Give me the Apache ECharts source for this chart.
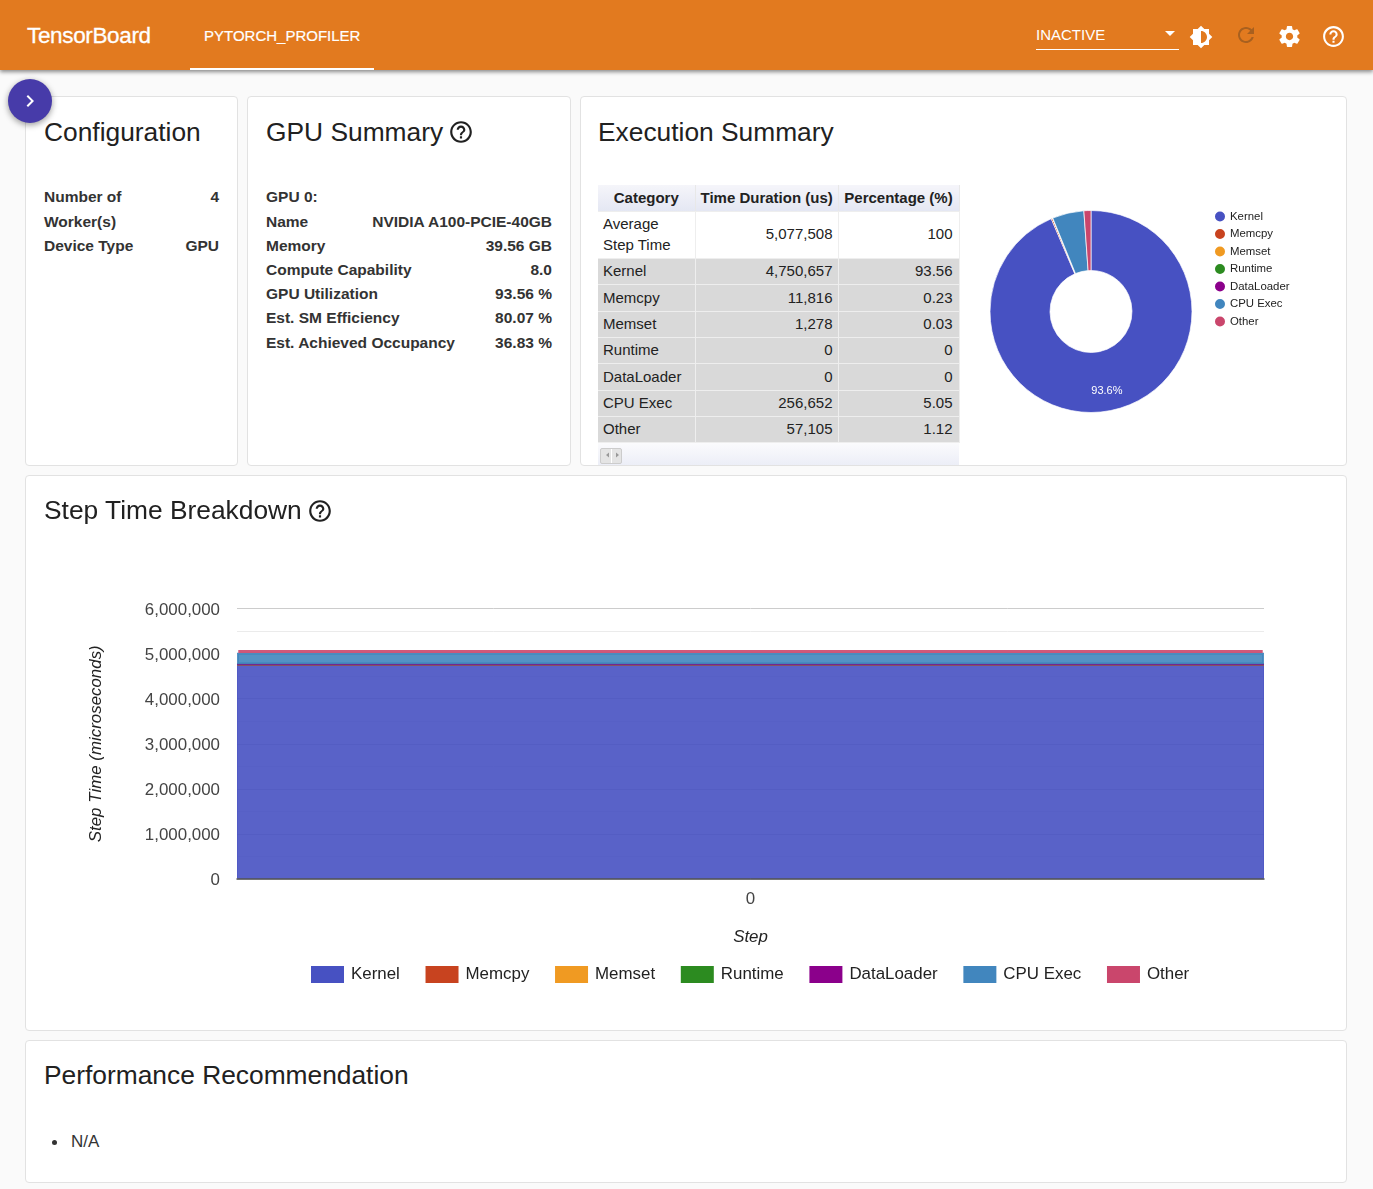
<!DOCTYPE html>
<html lang="en">
  <head>
    <meta charset="utf-8" />
    <title>TensorBoard</title>
    <script src="https://cdn.jsdelivr.net/npm/echarts@6/dist/echarts.min.js"></script>
    <style>
      html, body { margin: 0; padding: 0; width: 1373px; height: 1189px; overflow: hidden; }
      body { background: #fafafa; font-family: "Liberation Sans", Arial, sans-serif; color: #212121; position: relative; }
      .abs { position: absolute; white-space: nowrap; }
      .topbar { position: absolute; left: 0; top: 0; width: 1373px; height: 70px; background: #e27a1f; box-shadow: 0 2px 4px rgba(0,0,0,.45); color: #fff; z-index: 2; }
      .card { position: absolute; box-sizing: border-box; background: #fff; border: 1px solid #e2e2e2; border-radius: 4px; }
      .title { position: absolute; font-size: 26.35px; line-height: 32px; color: #212121; white-space: nowrap; }
      .fab { position: absolute; left: 8px; top: 79px; width: 44px; height: 44px; border-radius: 50%; background: #473ba9; box-shadow: 0 2px 6px rgba(0,0,0,.4); z-index: 3; }
      .kv { position: absolute; font-size: 15.5px; font-weight: bold; color: #333; line-height: 24.2px; }
      .kv div { display: flex; justify-content: space-between; white-space: nowrap; }
      table.summary { position: absolute; left: 598px; top: 185px; width: 361px; border-collapse: collapse; table-layout: fixed; font-size: 15px; color: #222; }
      table.summary th { height: 26px; padding: 0 5px; background: linear-gradient(#f5f5fa, #e4e7f3); font-weight: bold; text-align: center; border-right: 1px solid #e8e8e8; border-bottom: 1px solid #eee; box-sizing: border-box; white-space: nowrap; }
      table.summary td { height: 26px; padding: 0 6px 1px 5px; box-sizing: border-box; background: #d9d9d9; border-right: 1px solid #eee; border-bottom: 1px solid #eee; text-align: right; line-height: 21px; }
      table.summary tr:nth-child(4) td, table.summary tr:nth-child(7) td { height: 27px; }
      table.summary td:first-child { text-align: left; }
      table.summary td:nth-child(2) { padding-right: 5px; }
      table.summary tr.first td { background: #fff; height: 47px; border-right: 1px solid #eee; padding-bottom: 2px; }
      .scroller { position: absolute; left: 598px; top: 443px; width: 361px; height: 22px; background: linear-gradient(#fbfbfd, #eceef7); }
      .scroller span { position: absolute; left: 2px; top: 5px; width: 22px; height: 16px; box-sizing: border-box; border: 1px solid #ccc; background: #e4e4e4; border-radius: 2px; }
      .scroller span:after { content: ""; position: absolute; left: 10px; top: 0; width: 1px; height: 14px; background: #fff; }
      .scroller svg { position: absolute; left: 3px; top: 4px; }
    </style>
  </head>

  <body>
    <div class="topbar">
      <div class="abs" style="left: 27px; top: 22px; font-size: 22.5px; line-height: 28px; letter-spacing: -0.35px; -webkit-text-stroke: 0.3px #fff">TensorBoard</div>
      <div class="abs" style="left: 204px; top: 26px; font-size: 15px; line-height: 20px; -webkit-text-stroke: 0.2px #fff">PYTORCH_PROFILER</div>
      <div class="abs" style="left: 190px; top: 68px; width: 184px; height: 2px; background: #fff"></div>
      <div class="abs" style="left: 1036px; top: 25px; font-size: 15px; line-height: 20px">INACTIVE</div>
      <div class="abs" style="left: 1036px; top: 49px; width: 143px; height: 1px; background: #fff"></div>
      <svg class="abs" style="left: 1165px; top: 31px" width="10" height="5"><path d="M0 0h10L5 5z" fill="#fff" /></svg>
      <svg class="abs" style="left: 1189px; top: 25px" width="24" height="24" viewBox="0 0 24 24"><path fill="#fff" d="M20 15.31L23.31 12 20 8.69V4h-4.69L12 .69 8.69 4H4v4.69L.69 12 4 15.31V20h4.69L12 23.31 15.31 20H20v-4.69zM12 18V6c3.31 0 6 2.69 6 6s-2.69 6-6 6z" /></svg>
      <svg class="abs" style="left: 1234px; top: 23px" width="24" height="24" viewBox="0 0 24 24"><path fill="#a8601f" d="M17.65 6.35C16.2 4.9 14.21 4 12 4c-4.42 0-7.99 3.58-7.99 8s3.57 8 7.99 8c3.73 0 6.84-2.55 7.73-6h-2.08c-.82 2.33-3.04 4-5.65 4-3.31 0-6-2.69-6-6s2.69-6 6-6c1.66 0 3.14.69 4.22 1.78L13 11h7V4l-2.35 2.35z" /></svg>
      <svg class="abs" style="left: 1277px; top: 24px" width="25" height="25" viewBox="0 0 24 24"><path fill="#fff" d="M19.43 12.98c.04-.32.07-.64.07-.98s-.03-.66-.07-.98l2.11-1.65c.19-.15.24-.42.12-.64l-2-3.46c-.12-.22-.39-.3-.61-.22l-2.49 1c-.52-.4-1.08-.73-1.69-.98l-.38-2.65C14.46 2.18 14.25 2 14 2h-4c-.25 0-.46.18-.49.42l-.38 2.65c-.61.25-1.17.59-1.69.98l-2.49-1c-.23-.09-.49 0-.61.22l-2 3.46c-.13.22-.07.49.12.64l2.11 1.65c-.04.32-.07.65-.07.98s.03.66.07.98l-2.11 1.65c-.19.15-.24.42-.12.64l2 3.46c.12.22.39.3.61.22l2.49-1c.52.4 1.08.73 1.69.98l.38 2.65c.03.24.24.42.49.42h4c.25 0 .46-.18.49-.42l.38-2.65c.61-.25 1.17-.59 1.69-.98l2.49 1c.23.09.49 0 .61-.22l2-3.46c.12-.22.07-.49-.12-.64l-2.11-1.65zM12 15.5c-1.93 0-3.5-1.57-3.5-3.5s1.57-3.5 3.5-3.5 3.5 1.57 3.5 3.5-1.57 3.5-3.5 3.5z" /></svg>
      <svg class="abs" style="left: 1321px; top: 24px" width="25" height="25" viewBox="0 0 24 24"><path fill="#fff" d="M11 18h2v-2h-2v2zm1-16C6.48 2 2 6.48 2 12s4.48 10 10 10 10-4.48 10-10S17.52 2 12 2zm0 18c-4.41 0-8-3.59-8-8s3.59-8 8-8 8 3.59 8 8-3.59 8-8 8zm0-14c-2.21 0-4 1.79-4 4h2c0-1.1.9-2 2-2s2 .9 2 2c0 2-3 1.75-3 5h2c0-2.25 3-2.5 3-5 0-2.21-1.79-4-4-4z" /></svg>
    </div>
    <div class="fab">
      <svg class="abs" style="left: 10px; top: 10px" width="24" height="24" viewBox="0 0 24 24"><path fill="#fff" d="M10 6L8.59 7.41 13.17 12l-4.58 4.59L10 18l6-6z" /></svg>
    </div>

    <!-- cards -->
    <div class="card" style="left: 25px; top: 96px; width: 213px; height: 370px"></div>
    <div class="card" style="left: 247px; top: 96px; width: 324px; height: 370px"></div>
    <div class="card" style="left: 580px; top: 96px; width: 767px; height: 370px"></div>
    <div class="card" style="left: 25px; top: 475px; width: 1322px; height: 556px"></div>
    <div class="card" style="left: 25px; top: 1040px; width: 1322px; height: 143px"></div>

    <div class="title" style="left: 44px; top: 116px">Configuration</div>
    <div class="kv" style="left: 44px; top: 185.4px; width: 175px">
      <div><span>Number of<br />Worker(s)</span><span>4</span></div>
      <div><span>Device Type</span><span>GPU</span></div>
    </div>

    <div class="title" style="left: 266px; top: 116px">GPU Summary</div>
    <svg class="abs" style="left: 448px; top: 119px" width="26" height="26" viewBox="0 0 24 24"><path fill="#212121" d="M11 18h2v-2h-2v2zm1-16C6.48 2 2 6.48 2 12s4.48 10 10 10 10-4.48 10-10S17.52 2 12 2zm0 18c-4.41 0-8-3.59-8-8s3.59-8 8-8 8 3.59 8 8-3.59 8-8 8zm0-14c-2.21 0-4 1.79-4 4h2c0-1.1.9-2 2-2s2 .9 2 2c0 2-3 1.75-3 5h2c0-2.25 3-2.5 3-5 0-2.21-1.79-4-4-4z" /></svg>
    <div class="kv" id="gpu" style="left: 266px; top: 185.4px; width: 286px"></div>

    <div class="title" style="left: 598px; top: 116px">Execution Summary</div>
    <table class="summary" id="summary"></table>
    <div class="scroller"><span></span><svg width="22" height="16"><path d="M5 8l3-2.5v5zM15 5.5l3 2.5-3 2.5z" fill="#999" /></svg></div>
    <div id="pie" style="position: absolute; left: 965px; top: 190px; width: 370px; height: 250px"></div>

    <div id="steps" style="position: absolute; left: 26px; top: 476px; width: 1320px; height: 554px"></div>
    <div class="title" style="left: 44px; top: 494px">Step Time Breakdown</div>
    <svg class="abs" style="left: 307px; top: 498px" width="26" height="26" viewBox="0 0 24 24"><path fill="#212121" d="M11 18h2v-2h-2v2zm1-16C6.48 2 2 6.48 2 12s4.48 10 10 10 10-4.48 10-10S17.52 2 12 2zm0 18c-4.41 0-8-3.59-8-8s3.59-8 8-8 8 3.59 8 8-3.59 8-8 8zm0-14c-2.21 0-4 1.79-4 4h2c0-1.1.9-2 2-2s2 .9 2 2c0 2-3 1.75-3 5h2c0-2.25 3-2.5 3-5 0-2.21-1.79-4-4-4z" /></svg>

    <div class="title" style="left: 44px; top: 1059px">Performance Recommendation</div>
    <div class="abs" style="left: 52px; top: 1140px; width: 5px; height: 5px; border-radius: 50%; background: #333"></div>
    <div class="abs" style="left: 71px; top: 1132px; font-size: 17px; line-height: 20px; color: #333">N/A</div>

    <script type="text/javascript">
      // data
      var gpuLabels = ["GPU 0:", "Name", "Memory", "Compute Capability", "GPU Utilization", "Est. SM Efficiency", "Est. Achieved Occupancy"];
      var gpuValues = ["", "NVIDIA A100-PCIE-40GB", "39.56 GB", "8.0", "93.56 %", "80.07 %", "36.83 %"];

      var tableHeaders = ["Category", "Time Duration (us)", "Percentage (%)"];
      var categories = ["Kernel", "Memcpy", "Memset", "Runtime", "DataLoader", "CPU Exec", "Other"];
      var durations = [4750657, 11816, 1278, 0, 0, 256652, 57105];
      var percentages = ["93.56", "0.23", "0.03", "0", "0", "5.05", "1.12"];
      var averageStepTime = 5077508;
      var colors = ["#4751c2", "#c8431f", "#f09a22", "#2c8b20", "#8b008b", "#4186be", "#ca466c"];

      var steps = ["0"];
      var stepTicks = [0, 1000000, 2000000, 3000000, 4000000, 5000000, 6000000];

      function fmt(n) {
        return n.toLocaleString("en-US");
      }

      var gpuHtml = "";
      for (let i = 0; i < gpuLabels.length; ++i) {
        gpuHtml += "<div><span>" + gpuLabels[i] + "</span><span>" + gpuValues[i] + "</span></div>";
      }
      document.getElementById("gpu").innerHTML = gpuHtml;

      var tableHtml =
        '<colgroup><col style="width:97px"><col style="width:143px"><col style="width:121px"></colgroup><tr>';
      tableHeaders.forEach(function (h) {
        tableHtml += "<th>" + h + "</th>";
      });
      tableHtml += '</tr><tr class="first"><td>Average<br>Step Time</td><td>' + fmt(averageStepTime) + "</td><td>100</td></tr>";
      for (let i = 0; i < categories.length; ++i) {
        tableHtml += "<tr><td>" + categories[i] + "</td><td>" + fmt(durations[i]) + "</td><td>" + percentages[i] + "</td></tr>";
      }
      document.getElementById("summary").innerHTML = tableHtml;

      // donut
      var pieChart = echarts.init(document.getElementById("pie"));
      pieChart.setOption({
        animation: false,
        textStyle: { fontFamily: "Liberation Sans, Arial, sans-serif" },
        legend: {
          orient: "vertical",
          left: 243,
          top: 14.5,
          icon: "circle",
          itemWidth: 12,
          itemHeight: 12,
          itemGap: 3.5,
          textStyle: { fontSize: 11.4, color: "#222", padding: [0, 0, 0, -1] },
          data: categories,
        },
        series: [
          {
            type: "pie",
            center: [126, 121.5],
            radius: [41, 101],
            startAngle: 90,
            clockwise: true,
            color: colors,
            itemStyle: { borderColor: "#fff", borderWidth: 0.7 },
            labelLine: { show: false },
            label: {
              position: "inside",
              color: "#fff",
              fontSize: 11,
              formatter: function (p) {
                return p.percent > 10 ? p.percent.toFixed(1) + "%" : "";
              },
            },
            labelLayout: { dx: 1, dy: 7 },
            data: categories.map(function (c, i) {
              return { name: c, value: durations[i] };
            }),
          },
        ],
      });

      // step time breakdown
      var strokeWidths = [1, 2, 2, 2, 2, 2, 3];
      var stepChart = echarts.init(document.getElementById("steps"));
      stepChart.setOption({
        animation: false,
        textStyle: { fontFamily: "Liberation Sans, Arial, sans-serif" },
        color: colors,
        grid: { left: 211, right: 82, top: 132.5, bottom: 151 },
        legend: {
          left: 280,
          top: 485,
          icon: "rect",
          itemWidth: 33,
          itemHeight: 17,
          itemGap: 25.7,
          itemStyle: { opacity: 1, borderWidth: 0 },
          textStyle: { fontSize: 16.9, color: "#222", padding: [2, 0, 0, 2] },
          data: categories,
        },
        xAxis: {
          type: "category",
          data: steps,
          z: 5,
          name: "Step",
          nameLocation: "middle",
          nameGap: 50,
          nameTextStyle: { fontStyle: "italic", fontSize: 16.9, color: "#222" },
          axisTick: { show: false },
          axisLine: { show: true, onZero: true, lineStyle: { color: "#555", width: 1.5 } },
          axisLabel: { fontSize: 16.9, color: "#444", margin: 12 },
        },
        yAxis: {
          type: "value",
          min: stepTicks[0],
          max: stepTicks[stepTicks.length - 1],
          interval: stepTicks[1],
          name: "Step Time (microseconds)",
          nameLocation: "middle",
          nameGap: 132,
          nameTextStyle: { fontStyle: "italic", fontSize: 16.9, color: "#222" },
          axisLine: { show: false },
          axisTick: { show: false },
          axisLabel: {
            fontSize: 16.9,
            color: "#444",
            margin: 17,
            verticalAlign: "top",
            lineHeight: 3,
            formatter: function (v) {
              return fmt(v);
            },
          },
          splitLine: { show: true, lineStyle: { color: "#ccc", width: 1 } },
          minorTick: { show: false, splitNumber: 2 },
          minorSplitLine: { show: true, lineStyle: { color: "#ebebeb", width: 1 } },
        },
        series: categories.map(function (c, i) {
          return {
            name: c,
            type: "bar",
            stack: "total",
            barWidth: "100%",
            // thin slices still show as a line, like the stepped area stroke
            itemStyle: { color: colors[i], opacity: 0.9, borderColor: colors[i], borderWidth: strokeWidths[i] },
            data: [durations[i]],
          };
        }),
      });
    </script>
  </body>
</html>
